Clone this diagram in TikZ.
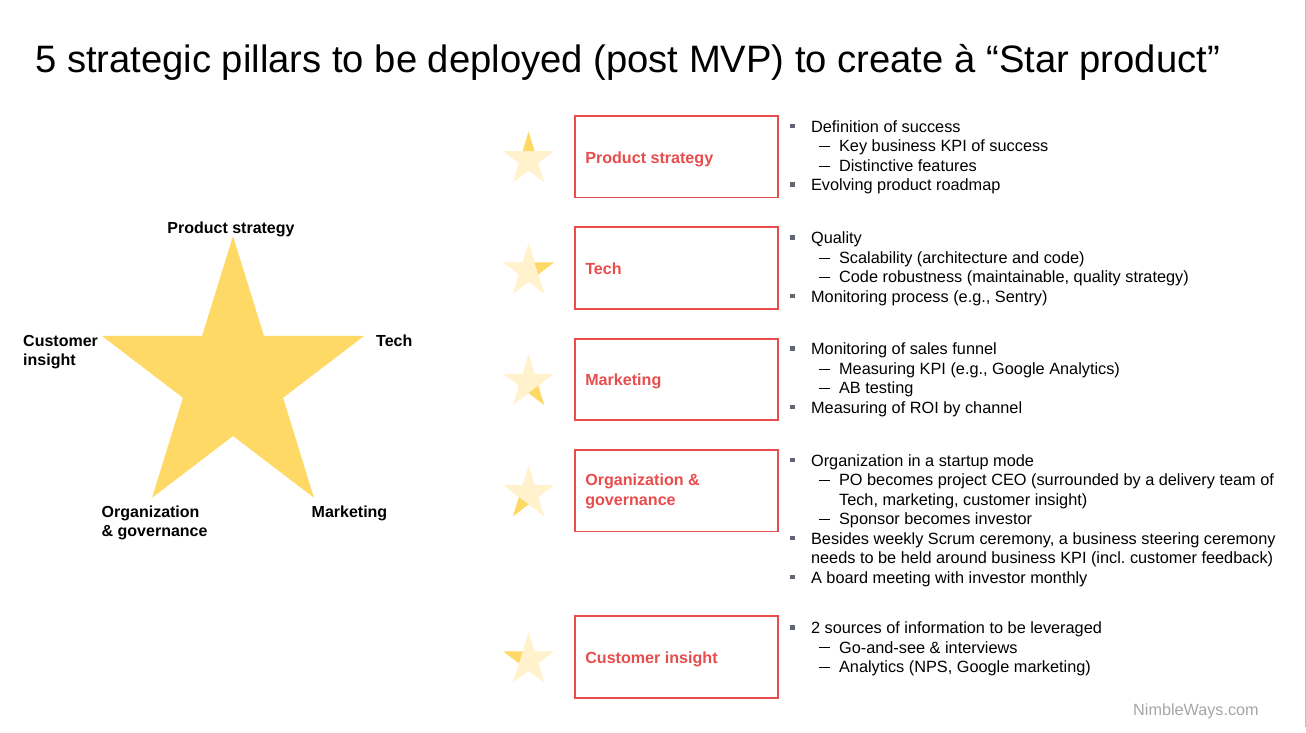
\documentclass[tikz,border=0pt]{standalone}
\usepackage{fontspec}
\setmainfont{Liberation Sans}
\usetikzlibrary{positioning,calc}
\frenchspacing

\definecolor{starfill}{HTML}{FFD966}
\definecolor{starpale}{HTML}{FFF2CC}
\definecolor{pillarred}{HTML}{E84C4C}
\definecolor{bulletgrey}{HTML}{5F6672}
\definecolor{footgrey}{HTML}{A6A6A6}
\definecolor{edgegrey}{HTML}{BFBFBF}

% star outline, #1 outer radius, #2 inner radius
\newcommand{\starpts}[2]{(90:#1) -- (126:#2) -- (162:#1) -- (198:#2) -- (234:#1) -- (270:#2) -- (306:#1) -- (342:#2) -- (18:#1) -- (54:#2) -- cycle}
\newcommand{\hd}{\rule{0pt}{12pt}}
\newcommand{\bul}{\makebox[21pt][l]{\textcolor{bulletgrey}{\rule[4pt]{4.5pt}{4.5pt}}}}
\newcommand{\subl}{\hspace*{29pt}\makebox[20pt][l]{\rule[4.6pt]{11pt}{1pt}}}
\newcommand{\contb}{\hspace*{21pt}}
\newcommand{\conts}{\hspace*{49pt}}

\begin{document}
\begin{tikzpicture}[x=1pt, y=-1pt,
    pillarbox/.style={draw=pillarred, line width=1.8pt, minimum width=203pt, minimum height=81.5pt, inner sep=0pt},
    boxlabel/.style={font=\bfseries\fontsize{16.1}{20}\selectfont, text=pillarred, inner sep=0pt, anchor=base west},
    starlabel/.style={font=\bfseries\fontsize{16}{19}\selectfont, inner sep=0pt, anchor=base west},
    toptext/.style={anchor=north west, yshift=12pt, align=left},
    notes/.style={font=\fontsize{16.3}{19.5}\selectfont, inner sep=0pt, toptext}]

    \useasboundingbox (0,0) rectangle (1306,732);
    \fill[white] (0,0) rectangle (1306,732);

    % title
    \node[font=\fontsize{38.2}{44}\selectfont, inner sep=0pt, anchor=base west] (title) at (35,72)
        {5 strategic pillars to be deployed (post MVP) to create à “Star product”};

    % big star
    \begin{scope}[shift={(233,380.7)}, xscale=0.952, yscale=-1]
        \fill[starfill] \starpts{144.7}{55.3};
    \end{scope}
    \node[starlabel, anchor=base] (lblprod) at (231,233) {Product strategy};
    \node[starlabel] (lbltech) at (376,346.5) {Tech};
    \node[starlabel, toptext] (lblcust) at (23,346.5) {\hd Customer\\insight};
    \node[starlabel] (lblmkt) at (311.5,517.3) {Marketing};
    \node[starlabel, toptext] (lblorg) at (101.5,517.3) {\hd Organization\\\& governance};

    % pillar boxes
    \node[pillarbox] (prodbox) at (676.5,156.8) {};
    \node[pillarbox, below=28pt of prodbox] (techbox) {};
    \node[pillarbox, below=28pt of techbox] (mktbox) {};
    \node[pillarbox, below=28pt of mktbox] (orgbox) {};
    \node[pillarbox, below=83pt of orgbox] (custbox) {};

    \node[boxlabel] (prodlbl) at ($(prodbox.west)+(11,6.5)$) {Product strategy};
    \node[boxlabel] (techlbl) at ($(techbox.west)+(11,6.5)$) {Tech};
    \node[boxlabel] (mktlbl) at ($(mktbox.west)+(11,6.5)$) {Marketing};
    \node[boxlabel, toptext] (orglbl) at ($(orgbox.west)+(11,-5)$) {\hd Organization \&\\governance};
    \node[boxlabel] (custlbl) at ($(custbox.west)+(11,6.5)$) {Customer insight};

    % small stars, one point lit
    \foreach \bx/\tip in {prodbox/90, techbox/18, mktbox/-54, orgbox/234, custbox/162} {
        \begin{scope}[shift={($(\bx.west)+(-45.5,3)$)}, xscale=0.95, yscale=-1]
            \fill[starpale] \starpts{28}{10.7};
            \fill[starfill] (\tip:28) -- ({\tip+36}:10.7) -- ({\tip-36}:10.7) -- cycle;
        \end{scope}
    }

    % notes
    \node[notes] (prodnotes) at ($(prodbox.north east)+(11,17)$)
        {\hd\bul Definition of success\\
         \subl Key business KPI of success\\
         \subl Distinctive features\\
         \bul Evolving product roadmap};
    \node[notes] (technotes) at ($(techbox.north east)+(11,17)$)
        {\hd\bul Quality\\
         \subl Scalability (architecture and code)\\
         \subl Code robustness (maintainable, quality strategy)\\
         \bul Monitoring process (e.g., Sentry)};
    \node[notes] (mktnotes) at ($(mktbox.north east)+(11,17)$)
        {\hd\bul Monitoring of sales funnel\\
         \subl Measuring KPI (e.g., Google Analytics)\\
         \subl AB testing\\
         \bul Measuring of ROI by channel};
    \node[notes] (orgnotes) at ($(orgbox.north east)+(11,17)$)
        {\hd\bul Organization in a startup mode\\
         \subl PO becomes project CEO (surrounded by a delivery team of\\
         \conts Tech, marketing, customer insight)\\
         \subl Sponsor becomes investor\\
         \bul Besides weekly Scrum ceremony, a business steering ceremony\\
         \contb needs to be held around business KPI (incl. customer feedback)\\
         \bul A board meeting with investor monthly};
    \node[notes] (custnotes) at ($(custbox.north east)+(11,18)$)
        {\hd\bul 2 sources of information to be leveraged\\
         \subl Go-and-see \& interviews\\
         \subl Analytics (NPS, Google marketing)};

    % footer
    \node[font=\fontsize{16.2}{19}\selectfont, text=footgrey, inner sep=0pt, anchor=base west] (footer) at (1133,715) {NimbleWays.com};
    \draw[edgegrey, line width=1pt] (1305.5,0) -- (1305.5,727);
\end{tikzpicture}
\end{document}
